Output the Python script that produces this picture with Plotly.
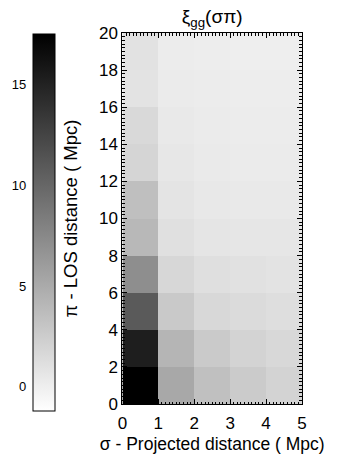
import plotly.graph_objects as go

# Bin centres of the projected (sigma) and line-of-sight (pi) separations, in Mpc
sigma_centres = [0.5, 1.5, 2.5, 3.5, 4.5]
pi_centres = [1, 3, 5, 7, 9, 11, 13, 15, 17, 19]

# xi_gg(sigma, pi): one row per pi bin, one column per sigma bin
xi_rows = [
    [17.50, 5.18, 3.42, 2.61, 2.03],
    [15.30, 4.23, 2.69, 2.03, 1.66],
    [10.90, 2.76, 1.66, 1.44, 1.22],
    [7.09, 1.73, 1.15, 1.00, 0.85],
    [4.01, 1.07, 0.71, 0.63, 0.63],
    [3.49, 0.78, 0.49, 0.41, 0.41],
    [1.88, 0.56, 0.34, 0.27, 0.27],
    [1.59, 0.41, 0.27, 0.19, 0.19],
    [0.85, 0.27, 0.19, 0.12, 0.12],
    [0.93, 0.19, 0.12, 0.05, 0.05],
]

# Colour scale limits and colour bar labels
z_low, z_high = -1.2, 17.5
cbar_ticks = [0, 5, 10, 15]
x_ticks = [0, 1, 2, 3, 4, 5]
y_ticks = [0, 2, 4, 6, 8, 10, 12, 14, 16, 18, 20]

W, H = 338, 456
FONT = "Liberation Sans, Arial, sans-serif"

fig = go.Figure()

fig.add_trace(go.Heatmap(
    x=sigma_centres, y=pi_centres, z=xi_rows,
    zmin=z_low, zmax=z_high,
    colorscale=[[0, "#ffffff"], [1, "#000000"]],
    xaxis="x", yaxis="y",
    colorbar=dict(
        x=29 / W, xanchor="left", xref="paper",
        y=0, yanchor="bottom", yref="paper",
        lenmode="fraction", len=0.9974,
        thickness=22, thicknessmode="pixels",
        xpad=0, ypad=0,
        outlinewidth=1, outlinecolor="black",
        showticklabels=False, ticks="",
    ),
))

# Empty trace so the colour bar's label axis is drawn
fig.add_trace(go.Scatter(x=[], y=[], xaxis="x3", yaxis="y3", showlegend=False,
                         hoverinfo="skip"))

axis_common = dict(
    showline=True, linecolor="black", linewidth=1, mirror="allticks",
    ticks="inside", ticklen=5, tickwidth=1, tickcolor="black",
    showgrid=False, zeroline=False,
    tickfont=dict(family=FONT, size=17, color="black"),
)

fig.update_layout(
    width=W, height=H,
    margin=dict(l=0, r=0, t=33, b=45),
    paper_bgcolor="white", plot_bgcolor="white",
    font=dict(family=FONT, color="black"),
    title=dict(
        text="ξ<sub>gg</sub>(σπ)",
        x=213.5 / W, xanchor="center", xref="paper",
        y=1 - 23 / H, yanchor="bottom", yref="container",
        font=dict(family=FONT, size=19, color="black"),
        pad=dict(t=0, b=0),
    ),
    xaxis=dict(
        axis_common,
        domain=[121 / W, 306 / W], range=[0, 5],
        tickvals=x_ticks, anchor="y", ticklabelstandoff=4,
        minor=dict(dtick=0.1, ticks="inside", ticklen=2.5, tickcolor="black",
                   showgrid=False),
        title=dict(text="σ - Projected distance ( Mpc)",
                   font=dict(family=FONT, size=17.5, color="black"), standoff=5),
    ),
    yaxis=dict(
        axis_common,
        domain=[7 / 378, 1], range=[0, 20],
        tickvals=y_ticks, anchor="x",
        minor=dict(dtick=0.2, ticks="inside", ticklen=2.5, tickcolor="black",
                   showgrid=False),
        title=dict(text="π - LOS distance ( Mpc)",
                   font=dict(family=FONT, size=18.5, color="black"), standoff=16),
    ),
    xaxis3=dict(domain=[29 / W, 51 / W], range=[0, 1], visible=False,
                anchor="y3", fixedrange=True),
    yaxis3=dict(
        domain=[0, 0.9974], range=[z_low, z_high], anchor="x3",
        side="left", tickvals=cbar_ticks, ticks="", showline=False,
        showgrid=False, zeroline=False, ticklabelstandoff=6,
        tickfont=dict(family=FONT, size=13, color="black"),
    ),
)

fig.write_html("out.html")
